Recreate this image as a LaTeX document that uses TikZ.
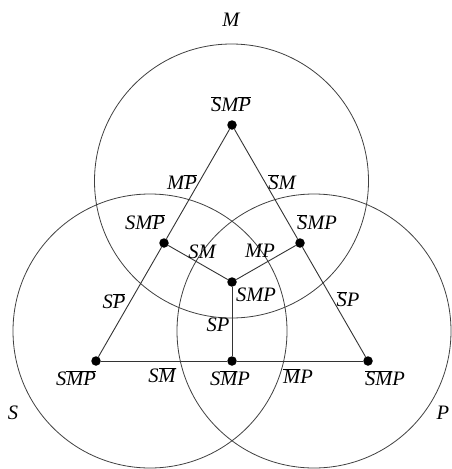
\documentclass[tikz,border=0pt]{standalone}
\usepackage{fontspec}
\setmainfont{Liberation Serif}
\newcommand{\ol}[1]{$\overline{\mbox{\itshape #1}}$}
\begin{document}
\begin{tikzpicture}[x=1pt,y=-1pt,
  ring/.style={draw=black!75,line width=0.8pt},
  edge/.style={draw=black!80,line width=0.9pt},
  dot/.style={circle,fill=black,inner sep=0pt,minimum size=9.5pt},
  lbl/.style={font=\fontsize{20.5}{22}\selectfont\itshape,inner sep=0pt}]
\useasboundingbox (0,0) rectangle (452,469);
% circles
\draw[ring] (231.5,181) circle[radius=137pt];
\draw[ring] (150,331) circle[radius=137pt];
\draw[ring] (314,331) circle[radius=137pt];
% dots
\node[dot] (t) at (232,125) {};
\node[dot] (l) at (164,243) {};
\node[dot] (r) at (300,243) {};
\node[dot] (c) at (232,282) {};
\node[dot] (bl) at (96,361) {};
\node[dot] (bm) at (232,361) {};
\node[dot] (br) at (368,361) {};
% edges
\draw[edge] (t) -- (l);
\draw[edge] (l) -- (bl);
\draw[edge] (t) -- (r);
\draw[edge] (r) -- (br);
\draw[edge] (bl) -- (bm);
\draw[edge] (bm) -- (br);
\draw[edge] (c) -- (l);
\draw[edge] (c) -- (r);
\draw[edge] (c) -- (bm);
% set labels
\node[lbl] (lM) at (231,20) {M};
\node[lbl] (lS) at (13,413) {S};
\node[lbl] (lP) at (443,413) {P};
% vertex labels
\node[lbl] (vt) at (231,104) {\ol{S}M\ol{P}};
\node[lbl] (vl) at (145,222) {SM\ol{P}};
\node[lbl] (vr) at (317,222) {\ol{S}MP};
\node[lbl] (vc) at (256,295) {SMP};
\node[lbl] (vbl) at (76,378) {S\ol{MP}};
\node[lbl] (vbm) at (230,378) {S\ol{M}P};
\node[lbl] (vbr) at (385,378) {\ol{SM}P};
% edge labels
\node[lbl] (e1) at (182,182) {M\ol{P}};
\node[lbl] (e2) at (282,182) {\ol{S}M};
\node[lbl] (e3) at (114,301) {S\ol{P}};
\node[lbl] (e4) at (348,299) {\ol{S}P};
\node[lbl] (e5) at (162,375) {S\ol{M}};
\node[lbl] (e6) at (298,376) {\ol{M}P};
\node[lbl] (e7) at (202,252) {SM};
\node[lbl] (e8) at (260,251) {MP};
\node[lbl] (e9) at (218,325) {SP};
\end{tikzpicture}
\end{document}
